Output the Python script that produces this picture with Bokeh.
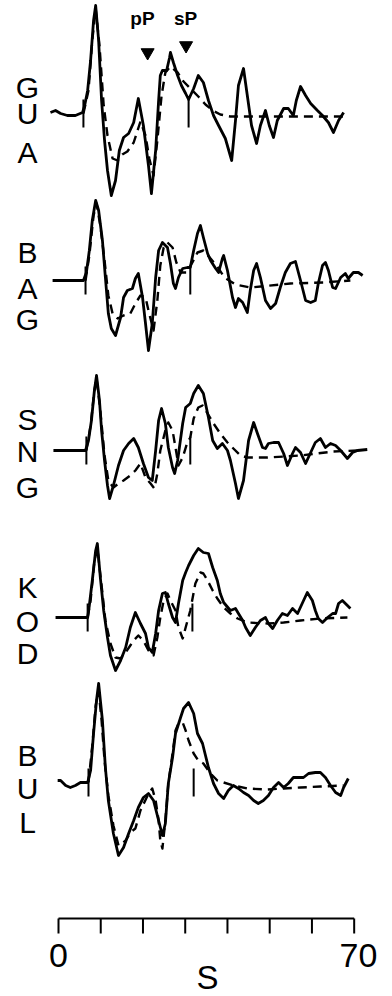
from bokeh.plotting import figure
from bokeh.models import Range1d
from bokeh.core.properties import value
from bokeh.embed import file_html
from bokeh.resources import INLINE

# ---------------- data (time in s, amplitude in arbitrary units, + up) -------------
STATIONS = ["GUA", "BAG", "SNG", "KOD", "BUL"]

GUA_T_OBS = [-1.9, -0.7, 0.5, 2.1, 4.0, 5.7, 6.2, 6.9, 7.6, 8.3, 8.8, 9.5, 10.2, 10.9, 11.6, 12.5, 13.5, 14.4, 15.4, 16.6, 17.8, 18.9, 20.1, 21.3, 22.0, 23.0, 23.7, 24.1, 24.6, 25.6, 26.3, 26.5, 27.2, 28.2, 29.1, 30.1, 30.8, 32.0, 33.1, 34.3, 35.5, 36.7, 37.9, 39.5, 41.0, 41.9, 42.6, 43.8, 44.7, 45.7, 46.9, 47.8, 49.0, 49.9, 50.9, 51.8, 53.3, 54.4, 55.6, 56.3, 57.3, 58.5, 59.7, 61.3, 62.5, 63.9, 65.1, 66.3, 67.5]
GUA_A_OBS = [1, 3, 0, -2, -2, 1, 8, 23, 53, 93, 108, 73, 13, -27, -57, -82, -67, -37, -24, -20, -9, 15, -12, -52, -80, -37, 13, 38, 43, 43, 56, 61, 51, 38, 28, 20, 14, 25, 38, 31, 13, -2, -12, -25, -47, -7, 28, 45, 18, -12, -30, -12, 3, -12, -24, -7, 5, 5, -2, 13, 27, 18, 10, 3, -2, -9, -19, -7, 1]
GUA_T_SYN = [5.9, 7.1, 8.0, 8.8, 9.7, 10.7, 11.6, 12.8, 14.0, 15.1, 16.3, 17.8, 19.4, 20.6, 21.5, 22.5, 23.4, 24.4, 25.3, 26.5, 28.2, 29.6, 31.2, 33.1, 34.8, 36.5, 38.3, 40.7, 44.3, 67.9]
GUA_A_SYN = [0, 23, 73, 105, 68, 8, -22, -45, -47, -41, -38, -29, -8, -22, -45, -62, -27, 18, 41, 47, 41, 32, 25, 17, 9, 3, -1, -3, -3, -3]

BAG_T_OBS = [-1.4, 5.9, 6.6, 7.3, 8.0, 8.8, 9.5, 10.4, 11.1, 11.8, 12.5, 13.5, 14.7, 15.4, 16.3, 17.5, 18.2, 18.9, 19.9, 20.6, 21.3, 22.2, 23.0, 23.7, 24.6, 25.8, 26.5, 27.2, 27.7, 28.4, 29.4, 30.5, 31.2, 32.0, 32.9, 33.6, 34.3, 35.3, 36.0, 37.2, 37.9, 38.8, 39.1, 40.0, 41.2, 41.9, 42.6, 43.6, 44.7, 45.4, 46.2, 46.9, 47.8, 49.0, 50.2, 51.4, 52.5, 53.7, 54.9, 56.1, 57.3, 58.5, 59.7, 60.8, 61.5, 62.5, 63.2, 63.9, 64.9, 65.6, 66.8, 67.9, 68.6, 69.8, 71.0, 72.0]
BAG_A_OBS = [0, 0, 8, 30, 60, 80, 70, 40, 3, -33, -48, -55, -37, -17, -10, -8, 2, 7, -17, -43, -70, -43, 3, 30, 38, 33, 17, -3, -8, 3, 12, 13, 13, 30, 47, 55, 43, 27, 20, 12, 8, 22, 25, 10, -17, -27, -18, -22, -32, -10, 10, 17, 3, -20, -28, -23, -7, 8, 17, 19, 0, -20, -22, -20, -3, 15, 18, 10, -7, -8, 3, 7, 2, 8, 8, 5]
BAG_T_SYN = [6.4, 7.3, 8.3, 9.0, 9.9, 10.9, 11.8, 12.8, 14.0, 15.4, 17.0, 18.2, 19.4, 20.6, 21.3, 22.5, 23.4, 24.1, 24.9, 25.8, 27.0, 27.9, 28.9, 30.3, 31.7, 32.9, 34.3, 36.0, 37.6, 39.3, 41.9, 45.4, 54.9, 62.7, 69.1]
BAG_A_SYN = [0, 25, 65, 77, 55, 20, -15, -33, -38, -35, -33, -23, -15, -17, -30, -50, -20, 15, 33, 38, 33, 18, 8, 8, 18, 28, 30, 22, 14, 3, -4, -7, -3, -2, 0]

SNG_T_OBS = [-1.2, 6.4, 7.1, 7.8, 8.5, 9.0, 9.7, 10.2, 10.9, 11.6, 12.1, 13.0, 14.2, 15.4, 16.6, 17.8, 18.9, 20.1, 21.3, 22.2, 23.0, 23.7, 24.4, 25.3, 26.0, 27.0, 27.5, 28.2, 29.4, 30.1, 31.2, 32.0, 33.1, 34.3, 35.5, 36.5, 37.6, 38.8, 40.0, 40.7, 41.9, 42.6, 43.8, 45.0, 46.2, 47.1, 48.3, 49.0, 49.7, 50.9, 52.1, 53.3, 54.2, 55.4, 56.1, 57.3, 58.5, 59.7, 60.8, 62.0, 63.2, 64.4, 65.6, 66.8, 68.4, 69.6, 70.8, 73.1]
SNG_A_OBS = [0, 0, 10, 30, 60, 75, 50, 20, -10, -35, -48, -35, -15, 0, 7, 12, 3, -13, -27, -30, 0, 30, 42, 27, 3, -17, -23, -10, 27, 43, 47, 57, 65, 57, 33, 10, 2, 7, 0, -10, -33, -48, -30, 10, 28, 17, 3, 2, 7, 8, 8, -3, -15, -3, 3, -2, -13, -2, 8, 12, 3, 7, 5, 0, -8, -2, 0, 1]
SNG_T_SYN = [6.6, 7.6, 8.5, 9.0, 9.9, 10.9, 11.8, 13.0, 14.2, 15.4, 17.0, 18.2, 19.4, 20.6, 21.8, 22.7, 23.4, 24.1, 25.3, 26.0, 27.0, 27.7, 28.4, 29.4, 30.5, 31.2, 32.0, 33.1, 34.1, 35.3, 36.7, 38.3, 40.0, 41.4, 43.1, 44.7, 49.5, 57.3, 65.1, 70.8]
SNG_A_SYN = [0, 25, 60, 72, 40, -5, -30, -37, -33, -30, -25, -20, -13, -27, -33, -38, -23, 0, 20, 28, 20, 3, -15, -7, 8, 13, 32, 43, 45, 37, 27, 17, 8, 2, -5, -7, -7, -5, -1, 0]

KOD_T_OBS = [-0.7, 6.9, 7.3, 8.0, 8.8, 9.2, 9.9, 10.7, 11.6, 12.3, 13.5, 14.7, 15.9, 17.0, 18.2, 19.4, 20.6, 21.3, 22.2, 23.0, 23.7, 24.6, 25.3, 26.0, 27.0, 27.7, 28.4, 29.4, 30.1, 30.8, 32.0, 33.1, 34.3, 35.5, 36.5, 37.6, 38.3, 39.1, 40.7, 41.9, 42.6, 43.6, 44.3, 45.4, 46.6, 47.8, 49.0, 49.7, 50.7, 51.8, 53.0, 54.2, 55.4, 56.6, 57.8, 58.9, 60.1, 60.8, 61.5, 62.5, 63.7, 64.9, 65.6, 66.3, 67.2, 68.4, 69.1]
KOD_A_OBS = [0, 0, 12, 37, 67, 74, 40, 7, -20, -38, -53, -43, -30, -10, 5, -6, -16, -30, -35, -16, 7, 24, 25, 14, 0, -5, 14, 37, 45, 52, 62, 69, 65, 64, 50, 37, 24, 15, 7, 9, 4, -3, -10, -18, -10, -3, 0, -6, -11, -3, 4, 2, 9, 4, 15, 25, 17, 7, -1, -5, 0, 4, 4, 14, 17, 12, 9]
KOD_T_SYN = [6.9, 7.6, 8.5, 9.2, 10.2, 11.1, 12.3, 13.5, 14.7, 15.9, 17.0, 17.8, 18.9, 20.1, 21.3, 22.5, 23.4, 24.1, 24.9, 25.8, 26.5, 27.7, 28.4, 29.4, 30.1, 31.2, 32.4, 33.6, 34.3, 35.3, 36.5, 37.6, 39.1, 40.7, 42.4, 44.7, 49.5, 53.3, 57.3, 62.0, 68.4]
KOD_A_SYN = [0, 17, 57, 69, 32, -3, -26, -40, -41, -35, -28, -23, -18, -23, -33, -38, -20, 0, 17, 24, 17, 7, -10, -21, -10, 7, 34, 45, 44, 37, 27, 19, 10, 4, -1, -5, -6, -5, -3, -1, 0]

BUL_T_OBS = [-0.2, 0.5, 1.7, 2.8, 4.0, 5.2, 6.9, 7.6, 8.3, 9.0, 9.5, 10.4, 11.1, 11.8, 13.0, 14.2, 15.4, 16.6, 17.8, 18.9, 20.1, 21.3, 22.5, 23.7, 24.6, 25.3, 26.0, 27.0, 27.7, 28.9, 29.6, 30.8, 32.0, 32.9, 34.1, 34.8, 35.5, 36.7, 37.9, 39.1, 40.2, 41.4, 42.6, 43.8, 45.0, 46.2, 47.3, 48.5, 49.7, 50.9, 52.1, 53.3, 54.4, 55.6, 56.8, 58.0, 59.2, 60.8, 62.0, 63.2, 64.4, 65.6, 66.8, 67.5, 68.6]
BUL_A_OBS = [2, 2, -3, -5, -3, 0, 0, 12, 49, 82, 99, 62, 15, -18, -51, -73, -65, -51, -38, -25, -15, -11, -18, -38, -53, -41, -1, 25, 49, 65, 74, 80, 69, 49, 39, 27, 15, -1, -11, -16, -8, -3, -6, -10, -13, -18, -21, -18, -13, -5, 0, -5, -1, 5, 5, 5, 9, 10, 10, 5, -3, -10, -13, -5, 4]
BUL_T_SYN = [7.1, 8.0, 8.8, 9.5, 10.2, 10.9, 11.8, 13.0, 14.2, 15.1, 15.9, 17.0, 18.2, 19.4, 21.1, 22.2, 23.0, 23.7, 24.1, 24.6, 25.3, 26.0, 27.0, 27.7, 28.4, 29.4, 30.1, 30.8, 32.0, 33.1, 34.3, 36.0, 37.6, 39.1, 41.4, 44.7, 49.5, 53.3, 57.3, 62.0, 67.5]
BUL_A_SYN = [0, 37, 77, 92, 62, 22, -13, -43, -63, -61, -58, -50, -46, -28, -13, -6, -18, -38, -58, -66, -38, -1, 29, 52, 59, 60, 52, 42, 29, 22, 19, 9, 2, 0, -3, -6, -7, -6, -5, -4, -3]

# arrival-marker times (s): P onset and sP
P_TIMES = [5.9, 6.4, 6.6, 6.9, 7.1]
SP_TIMES = [30.8, 31.2, 31.2, 31.7, 32.0]

# phase annotations on top trace
PHASE_LABELS = ["pP", "sP"]
PHASE_TIMES = [21.1, 30.2]

# time scale bar
SCALE_TICKS = [0, 10, 20, 30, 40, 50, 60, 70]
SCALE_LABELS = ["0", "70"]
SCALE_UNIT = "S"

OBS = {"GUA": (GUA_T_OBS, GUA_A_OBS), "BAG": (BAG_T_OBS, BAG_A_OBS), "SNG": (SNG_T_OBS, SNG_A_OBS),
       "KOD": (KOD_T_OBS, KOD_A_OBS), "BUL": (BUL_T_OBS, BUL_A_OBS)}
SYN = {"GUA": (GUA_T_SYN, GUA_A_SYN), "BAG": (BAG_T_SYN, BAG_A_SYN), "SNG": (SNG_T_SYN, SNG_A_SYN),
       "KOD": (KOD_T_SYN, KOD_A_SYN), "BUL": (BUL_T_SYN, BUL_A_SYN)}

# ---------------- layout ----------------
W, H = 392, 996
PX_PER_S = 4.224
X0 = -58 / PX_PER_S                       # t=0 sits 58px in from the left edge
X1 = X0 + W / PX_PER_S
BASE = {"GUA": -113, "BAG": -280, "SNG": -450, "KOD": -617, "BUL": -782}
LETTER_Y = {"GUA": [-87, -113, -152], "BAG": [-252, -288, -319], "SNG": [-419, -451, -487],
            "KOD": [-587, -621, -653], "BUL": [-755, -788, -822]}
LETTER_X = (27 - 58) / PX_PER_S
TICK_HALF = 14

p = figure(width=W, height=H, output_backend="svg", toolbar_location=None,
           x_range=Range1d(X0, X1), y_range=Range1d(-H, 0),
           min_border=0, outline_line_color=None, background_fill_color="white",
           border_fill_color="white")
p.axis.visible = False
p.grid.visible = False

FONT = value("Liberation Sans")

for i, s in enumerate(STATIONS):
    b = BASE[s]
    t, a = OBS[s]
    p.line(t, [b + v for v in a], line_color="black", line_width=2.8, line_join="round")
    t, a = SYN[s]
    p.line(t, [b + v for v in a], line_color="black", line_width=2.4, line_dash="9 6",
           line_join="round")
    p.segment(x0=[P_TIMES[i], SP_TIMES[i]], y0=[b - TICK_HALF] * 2,
              x1=[P_TIMES[i], SP_TIMES[i]], y1=[b + TICK_HALF] * 2,
              line_color="black", line_width=2)
    p.text(x=[LETTER_X] * 3, y=LETTER_Y[s], text=list(s), text_font=FONT,
           text_font_size=value("30px"), text_align="center", text_baseline="middle",
           text_color="black")

# phase arrows and labels
p.scatter(x=PHASE_TIMES, y=[-52, -45], marker="inverted_triangle", size=13,
          fill_color="black", line_color="black")
p.text(x=[(142 - 58) / PX_PER_S, (185 - 58) / PX_PER_S], y=[-18, -18], text=PHASE_LABELS,
       text_font=FONT, text_font_style="bold", text_font_size=value("19px"),
       text_align="center", text_baseline="middle", text_color="black")

# scale bar
p.segment(x0=[SCALE_TICKS[0]], y0=[-918], x1=[SCALE_TICKS[-1]], y1=[-918],
          line_color="black", line_width=2)
p.segment(x0=SCALE_TICKS, y0=[-918] * len(SCALE_TICKS), x1=SCALE_TICKS,
          y1=[-933] * len(SCALE_TICKS), line_color="black", line_width=2)
p.text(x=[SCALE_TICKS[0], (358 - 58) / PX_PER_S], y=[-955, -955], text=SCALE_LABELS,
       text_font=FONT, text_font_size=value("34px"), text_align="center",
       text_baseline="middle", text_color="black")
p.text(x=[(207 - 58) / PX_PER_S], y=[-977], text=[SCALE_UNIT], text_font=FONT,
       text_font_size=value("33px"), text_align="center", text_baseline="middle",
       text_color="black")

open("out.html", "w").write(file_html(p, INLINE))
